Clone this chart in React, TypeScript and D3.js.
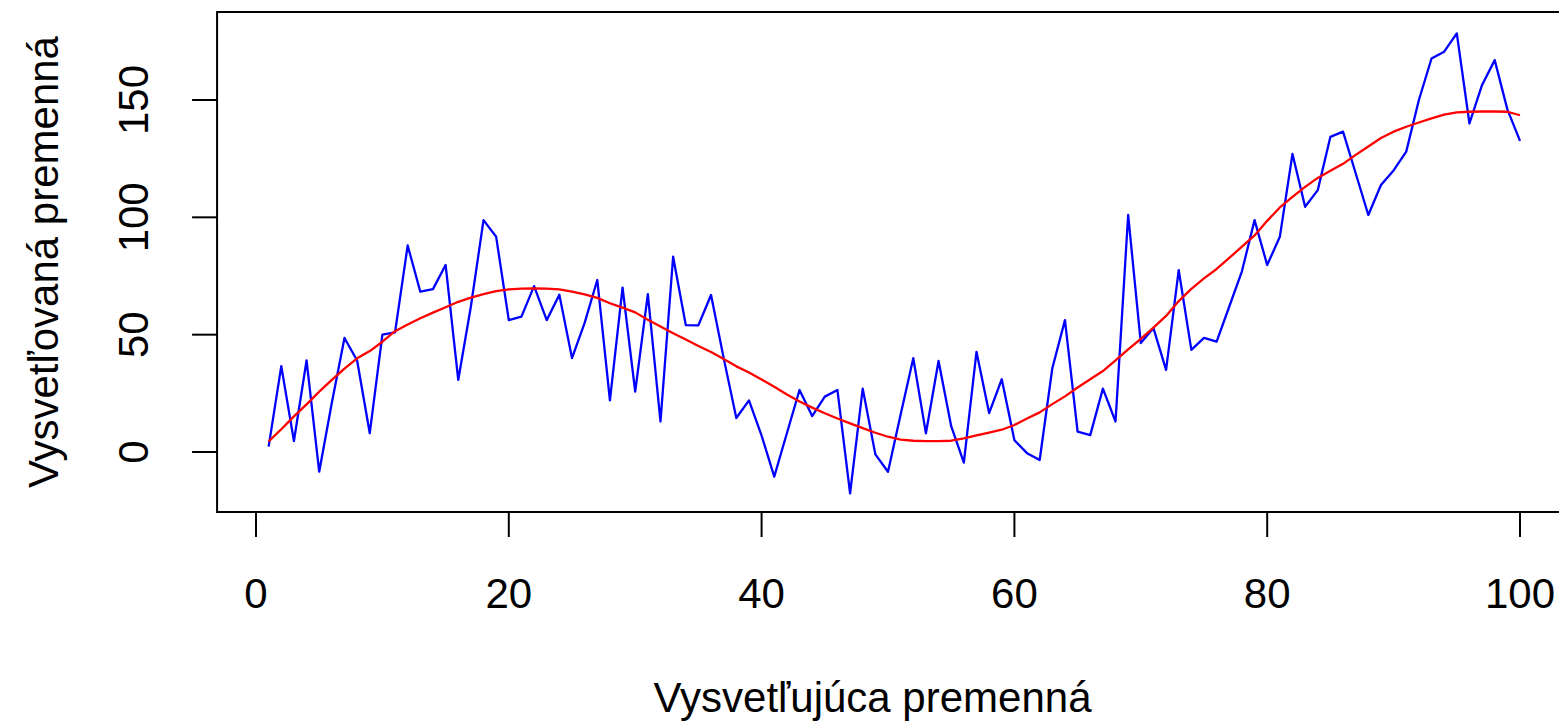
import React from "react";
import * as d3 from "d3";

// Observed response for x = 1..100
const observed: number[] = [
  2.3, 36.6, 4.7, 39, -8.4, 21, 48.6, 39, 8, 50,
  51, 88, 68.3, 69.4, 79.7, 30.7, 62, 98.8, 91.7, 56.2,
  57.7, 70.7, 56.2, 67, 40, 55, 73.3, 22, 70, 25.7,
  67.3, 13, 83.2, 54.1, 54, 66.9, 40, 14.5, 22, 7,
  -10.5, 8, 26.4, 15.3, 23.6, 26.4, -17.6, 27, -1, -8.4,
  16, 40, 8, 38.8, 11, -4.5, 42.7, 16.6, 31, 5,
  -0.5, -3.4, 35.7, 56.2, 8.7, 7.2, 27, 13, 101, 46.4,
  52.8, 35, 77.5, 43.5, 48.6, 47, 62, 77, 98.8, 79.7,
  91.7, 127, 104.5, 111.6, 134.3, 136.5, 118.8, 101, 113.8, 120,
  128, 150, 167.7, 170.6, 178.4, 140, 156.4, 167, 146, 132.6,
];

// Smoothed trend for x = 1..100
const trend: number[] = [
  4.5, 9.7, 15.2, 20.3, 25.7, 30.7, 35.5, 39.9, 43, 47,
  51.5, 54.3, 57, 59.4, 61.7, 64, 65.8, 67.3, 68.6, 69.3,
  69.6, 69.7, 69.6, 69.3, 68.3, 67.2, 65.7, 63.4, 61.5, 59.5,
  56.4, 53.5, 50.6, 47.9, 45.2, 42.6, 39.6, 36.5, 33.9, 30.9,
  27.8, 24.5, 21.5, 18.9, 16.5, 14.3, 12.2, 10.2, 8.2, 6.5,
  5.3, 4.8, 4.6, 4.6, 4.8, 5.8, 7.1, 8.3, 9.5, 11.5,
  14.3, 16.9, 20.4, 23.7, 27.5, 31, 34.5, 39, 43.7, 48.2,
  53, 58, 64.3, 69.5, 74, 78, 82.7, 87.5, 92.3, 98.5,
  104.2, 108.7, 113, 116.8, 119.8, 122.8, 126.6, 130.2, 133.8, 136.5,
  138.6, 140.4, 142.2, 143.8, 144.7, 145, 145.1, 145.1, 145, 143.5,
];

const xTicks = [0, 20, 40, 60, 80, 100];
const yTicks = [0, 50, 100, 150];

const xLabel = "Vysvetľujúca premenná";
const yLabel = "Vysvetľovaná premenná";

const W = 1559;
const H = 724;
const FONT = "'Liberation Sans', Arial, sans-serif";

export default function App() {
  const x = d3.scaleLinear().domain([0, 100]).range([256, 1520]);
  const y = d3.scaleLinear().domain([0, 150]).range([452, 100]);

  // plot region (extended ~4% beyond data range, as in base R)
  const xMin = x(-3.08);
  const xMax = x(104);
  const yBottom = 512;
  const yTop = 12;

  const line = d3
    .line<number>()
    .x((_, i) => x(i + 1))
    .y((d) => y(d));

  const tickLen = 25;

  return (
    <svg
      width={W}
      height={H}
      style={{ position: "absolute", left: 0, top: 0, background: "#fff" }}
      fontFamily={FONT}
    >
      <rect x={0} y={0} width={W} height={H} fill="#fff" />
      <path d={line(observed) ?? ""} fill="none" stroke="#0000FF" strokeWidth={2.3} strokeLinejoin="round" />
      <path d={line(trend) ?? ""} fill="none" stroke="#FF0000" strokeWidth={2.3} strokeLinejoin="round" />
      <rect
        x={xMin}
        y={yTop}
        width={xMax - xMin}
        height={yBottom - yTop}
        fill="none"
        stroke="#000"
        strokeWidth={2}
      />
      {xTicks.map((t) => (
        <g key={`x${t}`}>
          <line x1={x(t)} x2={x(t)} y1={yBottom} y2={yBottom + tickLen} stroke="#000" strokeWidth={2} />
          <text x={x(t)} y={608} textAnchor="middle" fontSize={42} fill="#000">
            {t}
          </text>
        </g>
      ))}
      {yTicks.map((t) => (
        <g key={`y${t}`}>
          <line x1={xMin - tickLen} x2={xMin} y1={y(t)} y2={y(t)} stroke="#000" strokeWidth={2} />
          <text
            transform={`translate(148,${y(t)}) rotate(-90)`}
            textAnchor="middle"
            fontSize={42}
            fill="#000"
          >
            {t}
          </text>
        </g>
      ))}
      <text x={(xMin + x(100)) / 2 + 4} y={712} textAnchor="middle" fontSize={42} fill="#000">
        {xLabel}
      </text>
      <text
        transform={`translate(58,${(yTop + yBottom) / 2}) rotate(-90)`}
        textAnchor="middle"
        fontSize={42}
        fill="#000"
      >
        {yLabel}
      </text>
    </svg>
  );
}
